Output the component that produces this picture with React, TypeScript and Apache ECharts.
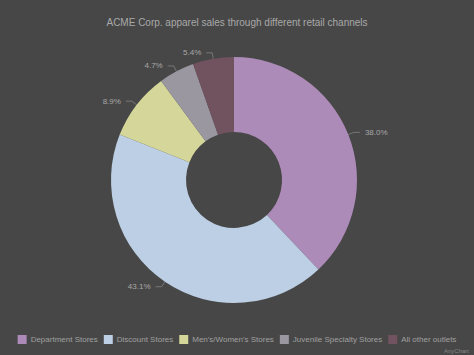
import React, { useEffect, useRef } from "react";
import * as echarts from "echarts";

const categories = [
  "Department Stores",
  "Discount Stores",
  "Men's/Women's Stores",
  "Juvenile Specialty Stores",
  "All other outlets",
];
const values = [38.0, 43.1, 8.9, 4.7, 5.4];
const colors = ["#ad8bb8", "#bccfe4", "#d4d799", "#9a97a0", "#71525f"];

export default function App() {
  const ref = useRef<HTMLDivElement>(null);
  useEffect(() => {
    document.body.style.margin = "0";
    const chart = echarts.init(ref.current!, undefined, { renderer: "svg" });
    chart.setOption({
      animation: false,
      backgroundColor: "#474747",
      title: {
        text: "ACME Corp. apparel sales through different retail channels",
        left: "center",
        top: 12,
        textStyle: {
          color: "#a9a9a9",
          fontSize: 10,
          fontWeight: "normal",
          fontFamily: "Liberation Sans, Arial, sans-serif",
        },
      },
      legend: {
        bottom: 6,
        left: "center",
        itemWidth: 9,
        itemHeight: 9,
        itemGap: 6,
        icon: "rect",
        textStyle: {
          color: "#a0a0a0",
          fontSize: 8,
          padding: [0, 0, 0, -1],
          fontFamily: "Liberation Sans, Arial, sans-serif",
        },
        data: categories,
      },
      graphic: [
        {
          type: "text",
          right: 5,
          bottom: 1,
          style: {
            text: "AnyChart",
            fill: "#858585",
            fontSize: 6,
            fontFamily: "Liberation Sans, Arial, sans-serif",
          },
        },
      ],
      series: [
        {
          type: "pie",
          center: [234, 180],
          radius: [48, 123],
          startAngle: 90,
          clockwise: true,
          itemStyle: { borderWidth: 0 },
          label: {
            show: true,
            formatter: (p: any) => p.value.toFixed(1) + "%",
            color: "#a8a8a8",
            fontSize: 8,
            fontFamily: "Liberation Sans, Arial, sans-serif",
          },
          labelLine: {
            show: true,
            length: 6,
            length2: 6,
            lineStyle: { color: "#777777", width: 1 },
          },
          emphasis: { disabled: true },
          data: categories.map((c, i) => ({
            name: c,
            value: values[i],
            itemStyle: { color: colors[i] },
          })),
        },
      ],
    });
    return () => chart.dispose();
  }, []);
  return (
    <div
      ref={ref}
      style={{ width: 474, height: 355, position: "fixed", left: 0, top: 0 }}
    />
  );
}
